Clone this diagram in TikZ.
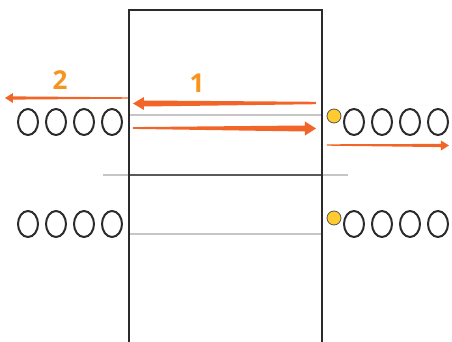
\documentclass[tikz,border=0pt]{standalone}
\usepackage{fontspec}
\setmainfont{Open Sans}
\usetikzlibrary{shapes.geometric, calc}

\definecolor{arroworange}{HTML}{F26528}
\definecolor{numorange}{HTML}{F7941E}
\definecolor{dotyellow}{HTML}{FFCB2F}
\definecolor{wallgray}{HTML}{2B2B2B}

\tikzset{
  bead/.style={ellipse, draw=wallgray, line width=1pt, minimum width=10pt, minimum height=13pt, inner sep=0pt},
  spot/.style={circle, draw=wallgray!80, line width=0.4pt, fill=dotyellow, minimum size=7pt, inner sep=0pt},
  numlabel/.style={text=numorange, font=\fontsize{13}{13}\selectfont\bfseries},
  arrowfill/.style={fill=arroworange}
}

\begin{document}
\begin{tikzpicture}[x=0.5pt, y=-0.5pt]
            \useasboundingbox (0,0) rectangle (452,342);

            % Draw the thin gray levels inside the box
            \draw[line width=1.2pt, gray!45] (129,115) -- (322,115);
            \draw[line width=1.2pt, gray!45] (129,234) -- (322,234);
            \draw[line width=1.2pt, gray!45] (103,175) -- (348,175);
            \draw[line width=1.3pt, black!65] (129,175) -- (322,175);

            % Draw the box (open at the bottom)
            \draw[line width=1.4pt, wallgray] (129,342) -- (129,10) -- (322,10) -- (322,342);

            % Beads on the left
            \foreach \i/\x in {1/28, 2/56, 3/84, 4/112} {
              \node[bead] (lt\i) at (\x,122) {};
              \node[bead] (lb\i) at (\x,224) {};
            }

            % Beads on the right, with the yellow spots
            \foreach \i/\x in {1/354, 2/382, 3/410, 4/438} {
              \node[bead] (rt\i) at (\x,122) {};
              \node[bead] (rb\i) at (\x,224) {};
            }
            \node[spot] (st) at (334,116) {};
            \node[spot] (sb) at (334,218) {};

            % Arrow 1: into the box, pointing left
            \coordinate (a1tail) at (316,103);
            \coordinate (a1tip) at (133,103.5);
            \fill[arrowfill] (a1tip) -- ++(11,-6.5) -- ++(0,3.5) -- ($(a1tail)+(0,-1.2)$) -- ($(a1tail)+(0,1.2)$)
              -- ($(a1tip)+(11,3)$) -- ++(0,3.5) -- cycle;

            % Arrow 2: out of the box, pointing left
            \coordinate (a2tail) at (128,98);
            \coordinate (a2tip) at (5,98);
            \fill[arrowfill] (a2tip) -- ++(8,-5) -- ++(0,3.4) -- ($(a2tail)+(0,-0.7)$) -- ($(a2tail)+(0,0.7)$)
              -- ($(a2tip)+(8,1.6)$) -- ++(0,3.4) -- cycle;

            % Arrow back through the box, pointing right
            \coordinate (a3tail) at (133,128);
            \coordinate (a3tip) at (316,128.5);
            \fill[arrowfill] (a3tip) -- ++(-11,-7) -- ++(0,4) -- ($(a3tail)+(0,-0.9)$) -- ($(a3tail)+(0,0.9)$)
              -- ($(a3tip)+(-11,3)$) -- ++(0,4) -- cycle;

            % Arrow out on the right
            \coordinate (a4tail) at (327,145);
            \coordinate (a4tip) at (449,145.5);
            \fill[arrowfill] (a4tip) -- ++(-8,-5) -- ++(0,3.4) -- ($(a4tail)+(0,-0.7)$) -- ($(a4tail)+(0,0.7)$)
              -- ($(a4tip)+(-8,1.6)$) -- ++(0,3.4) -- cycle;

            % Numbers
            \node[numlabel] (num2) at (60,80) {2};
            \node[numlabel] (num1) at (197,83) {1};
        \end{tikzpicture}
\end{document}
